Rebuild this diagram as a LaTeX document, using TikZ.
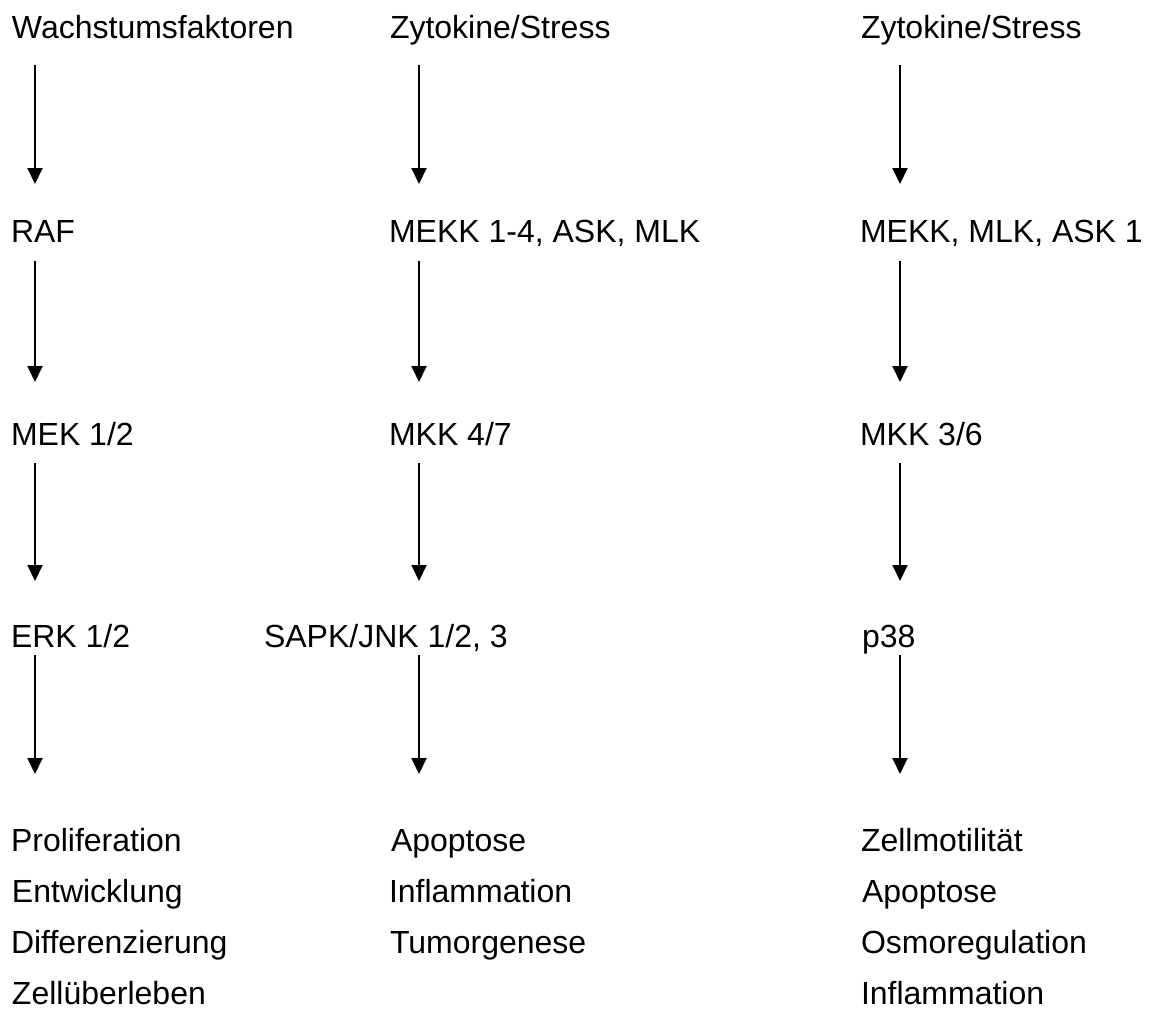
\documentclass[tikz,border=0pt]{standalone}
\usepackage{fontspec}
\setmainfont[Ligatures=NoCommon]{Liberation Sans}
\usetikzlibrary{arrows.meta}
\begin{document}
\begin{tikzpicture}[x=1pt,y=-1pt,
  lbl/.style={anchor=base west,inner sep=0pt,outer sep=0pt,font=\fontsize{32}{38}\selectfont},
  arr/.style={line width=2pt,-{Triangle[length=16pt,width=15pt]}}]
\useasboundingbox (0,0) rectangle (1150,1017);
% column 1
\node[lbl] (wf)   at (12,38)   {Wachstumsfaktoren};
\node[lbl] (raf)  at (11,242)  {RAF};
\node[lbl] (mek)  at (11,445)  {MEK 1/2};
\node[lbl] (erk)  at (11,647)  {ERK 1/2};
\node[lbl] (o11)  at (11,851)  {Proliferation};
\node[lbl] (o12)  at (12,902)  {Entwicklung};
\node[lbl] (o13)  at (11,953)  {Differenzierung};
\node[lbl] (o14)  at (12,1004) {Zellüberleben};
% column 2
\node[lbl] (zs2)  at (390,38)  {Zytokine/Stress};
\node[lbl] (mekk) at (389,242) {MEKK 1-4, ASK, MLK};
\node[lbl] (mkk47) at (389,445) {MKK 4/7};
\node[lbl] (jnk)  at (264,647) {SAPK/JNK 1/2, 3};
\node[lbl] (o21)  at (391,851) {Apoptose};
\node[lbl] (o22)  at (389,902) {Inflammation};
\node[lbl] (o23)  at (390,953) {Tumorgenese};
% column 3
\node[lbl] (zs3)  at (861,38)  {Zytokine/Stress};
\node[lbl] (mkml) at (860,242) {MEKK, MLK, ASK 1};
\node[lbl] (mkk36) at (860,445) {MKK 3/6};
\node[lbl] (p38)  at (862,647) {p38};
\node[lbl] (o31)  at (861,851) {Zellmotilität};
\node[lbl] (o32)  at (862,902) {Apoptose};
\node[lbl] (o33)  at (861,953) {Osmoregulation};
\node[lbl] (o34)  at (861,1004) {Inflammation};
% arrow end points
\foreach \c/\x in {1/35,2/419,3/900}{
  \coordinate (s\c1) at (\x,65);  \coordinate (e\c1) at (\x,184);
  \coordinate (s\c2) at (\x,261); \coordinate (e\c2) at (\x,382);
  \coordinate (s\c3) at (\x,463); \coordinate (e\c3) at (\x,581);
  \coordinate (s\c4) at (\x,655); \coordinate (e\c4) at (\x,774);
}
\foreach \c in {1,2,3}{
  \foreach \r in {1,2,3,4}{
    \draw[arr] (s\c\r) -- (e\c\r);
  }
}
\end{tikzpicture}
\end{document}
